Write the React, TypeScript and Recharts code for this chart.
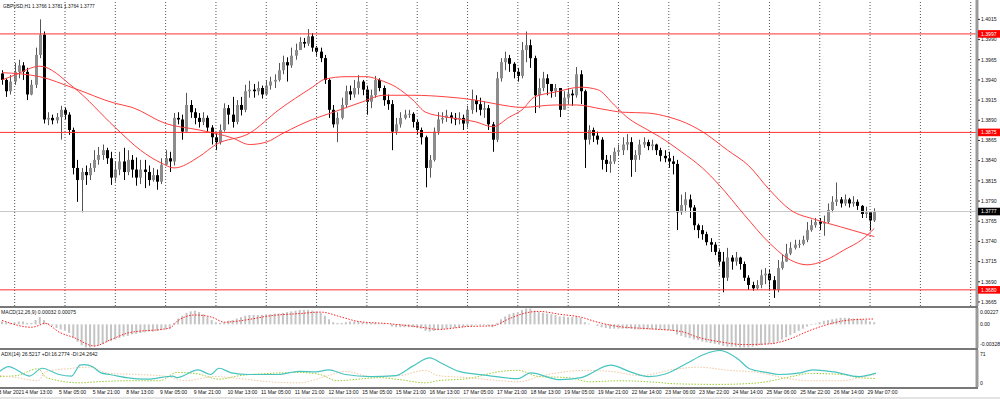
import { ComposedChart, Bar, Line, XAxis, YAxis, ReferenceLine } from 'recharts'

// GBPUSD H1, one row per two hours, prices in pips (1e-4)
const firstOpen = 13948
const closes = [
  13940, 13926, 13938, 13950, 13958, 13950, 13922, 13934, 13971, 13996,
  13891, 13893, 13890, 13894, 13903, 13897, 13878, 13831, 13816, 13826,
  13822, 13831, 13841, 13847, 13853, 13843, 13819, 13829, 13839, 13826,
  13841, 13829, 13819, 13829, 13826, 13816, 13822, 13814, 13835, 13843,
  13839, 13893, 13891, 13876, 13909, 13900, 13893, 13888, 13893, 13881,
  13869, 13863, 13878, 13905, 13897, 13888, 13909, 13903, 13926, 13928,
  13926, 13930, 13922, 13933, 13938, 13940, 13952, 13962, 13958, 13970,
  13977, 13987, 13985, 13994, 13980, 13975, 13967, 13940, 13903, 13885,
  13893, 13909, 13926, 13922, 13930, 13938, 13928, 13913, 13921, 13940,
  13930, 13915, 13910, 13876, 13885, 13893, 13897, 13898, 13888, 13878,
  13869, 13831, 13841, 13876, 13891, 13893, 13896, 13893, 13891, 13893,
  13886, 13903, 13915, 13910, 13903, 13905, 13885, 13866, 13942, 13962,
  13967, 13960, 13950, 13945, 13977, 13983, 13967, 13921, 13930, 13942,
  13935, 13926, 13930, 13903, 13918, 13923, 13921, 13947, 13926, 13866,
  13878, 13871, 13866, 13841, 13836, 13839, 13851, 13853, 13860, 13863,
  13841, 13847, 13860, 13863, 13858, 13860, 13853, 13846, 13843, 13839,
  13836, 13776, 13785, 13792, 13782, 13760, 13754, 13749, 13739, 13736,
  13727, 13715, 13695, 13720, 13715, 13720, 13712, 13695, 13686, 13682,
  13686, 13698, 13700, 13692, 13680, 13707, 13715, 13725, 13732, 13736,
  13737, 13742, 13754, 13760, 13764, 13762, 13764, 13779, 13789, 13792,
  13787, 13792, 13787, 13789, 13784, 13774, 13776, 13766, 13777,
]
const highs = [
  13952, 13942, 13946, 13961, 13965, 13962, 13955, 13940, 13980, 14015,
  14000, 13900, 13897, 13899, 13908, 13906, 13900, 13881, 13841, 13831,
  13834, 13837, 13853, 13857, 13860, 13856, 13851, 13839, 13851, 13856,
  13853, 13847, 13844, 13841, 13841, 13834, 13831, 13829, 13843, 13853,
  13851, 13899, 13900, 13897, 13924, 13915, 13905, 13899, 13900, 13896,
  13884, 13874, 13885, 13911, 13909, 13919, 13915, 13919, 13934, 13939,
  13935, 13938, 13933, 13940, 13944, 13947, 13961, 13970, 13968, 13980,
  13985, 13993, 13992, 14003, 13998, 13982, 13980, 13971, 13942, 13909,
  13900, 13918, 13933, 13933, 13940, 13946, 13940, 13933, 13928, 13945,
  13942, 13933, 13922, 13915, 13893, 13900, 13903, 13903, 13900, 13891,
  13881, 13871, 13847, 13881, 13900, 13900, 13903, 13900, 13899, 13900,
  13897, 13908, 13928, 13921, 13918, 13913, 13909, 13888, 13950, 13967,
  13975, 13971, 13962, 13955, 13987, 14000, 13990, 13970, 13942, 13950,
  13947, 13935, 13935, 13930, 13926, 13930, 13928, 13956, 13952, 13928,
  13884, 13881, 13876, 13869, 13847, 13847, 13856, 13860, 13869, 13873,
  13869, 13853, 13866, 13869, 13866, 13866, 13861, 13856, 13853, 13851,
  13846, 13841, 13798, 13801, 13798, 13785, 13762, 13760, 13752, 13744,
  13739, 13730, 13727, 13732, 13723, 13727, 13721, 13715, 13698, 13690,
  13692, 13705, 13707, 13705, 13697, 13717, 13724, 13737, 13739, 13742,
  13742, 13747, 13764, 13767, 13769, 13769, 13772, 13787, 13796, 13813,
  13795, 13798, 13794, 13796, 13792, 13785, 13783, 13776, 13781,
]
const lows = [
  13934, 13919, 13922, 13934, 13942, 13940, 13915, 13921, 13930, 13967,
  13886, 13884, 13885, 13886, 13866, 13891, 13872, 13823, 13789, 13776,
  13810, 13816, 13826, 13835, 13841, 13836, 13810, 13814, 13822, 13816,
  13822, 13819, 13809, 13811, 13806, 13809, 13814, 13804, 13811, 13835,
  13826, 13834, 13885, 13866, 13878, 13893, 13885, 13881, 13884, 13876,
  13860, 13853, 13860, 13876, 13885, 13881, 13885, 13896, 13900, 13918,
  13918, 13921, 13917, 13921, 13928, 13930, 13938, 13947, 13938, 13955,
  13965, 13977, 13980, 13982, 13975, 13970, 13962, 13935, 13893, 13881,
  13863, 13891, 13905, 13915, 13918, 13922, 13921, 13897, 13905, 13918,
  13926, 13908, 13903, 13853, 13872, 13881, 13891, 13893, 13881, 13872,
  13860, 13807, 13819, 13839, 13872, 13886, 13888, 13886, 13884, 13885,
  13878, 13881, 13898, 13900, 13896, 13893, 13878, 13851, 13863, 13938,
  13952, 13950, 13942, 13938, 13942, 13962, 13955, 13899, 13905, 13926,
  13921, 13918, 13919, 13894, 13905, 13910, 13908, 13918, 13910, 13831,
  13860, 13863, 13860, 13829, 13826, 13825, 13836, 13846, 13847, 13853,
  13820, 13826, 13841, 13856, 13853, 13853, 13847, 13839, 13838, 13831,
  13823, 13754, 13773, 13776, 13769, 13754, 13744, 13742, 13735, 13727,
  13723, 13710, 13677, 13691, 13705, 13710, 13705, 13691, 13680, 13679,
  13680, 13682, 13687, 13680, 13670, 13677, 13705, 13715, 13723, 13730,
  13732, 13735, 13739, 13752, 13757, 13754, 13747, 13762, 13776, 13784,
  13782, 13784, 13782, 13783, 13779, 13769, 13769, 13754, 13764,
]

// moving averages, [bar, price] read at points along the curves
const maFast: [number, number][] = [
  [0, 13940], [3, 13946], [9, 13957], [17, 13931], [27, 13881], [33, 13853], [38, 13837], [41, 13831],
  [47, 13845], [51, 13860], [59, 13874], [66, 13903], [74, 13931], [77, 13941], [82, 13944], [87, 13944],
  [90, 13940], [94, 13931], [98, 13915], [101, 13900], [106, 13894], [113, 13888], [117, 13882], [121, 13894],
  [124, 13903], [127, 13919], [132, 13925], [138, 13931], [142, 13928], [146, 13909], [149, 13894], [154, 13878],
  [157, 13869], [162, 13851], [167, 13831], [171, 13810], [177, 13773], [183, 13738], [188, 13717], [192, 13711],
  [196, 13716], [201, 13730], [205, 13742], [208, 13756],
]
const maSlow: [number, number][] = [
  [0, 13949], [9, 13944], [17, 13930], [27, 13911], [31, 13906], [39, 13886], [47, 13878], [55, 13868],
  [59, 13860], [63, 13863], [67, 13874], [74, 13891], [79, 13900], [86, 13913], [91, 13921], [98, 13921],
  [106, 13919], [113, 13915], [118, 13910], [124, 13906], [132, 13909], [137, 13909], [143, 13904], [148, 13900],
  [154, 13899], [159, 13894], [162, 13889], [167, 13876], [173, 13853], [178, 13834], [183, 13804], [188, 13779],
  [194, 13767], [200, 13758], [208, 13746],
]

// MACD(12,26,9) in 1e-4 units
const macdMain = [
  4, 3, 2, 3, 4, 4, 2, 2, 6, 10,
  6, 2, -2, -5, -7, -9, -12,
  -18, -24, -29, -32, -32, -31, -29, -27, -25, -23, -21, -19, -17,
  -16, -14, -13, -12, -11, -10, -10, -9, -8, -7, -6,
  2, 8, 12, 16, 18, 19, 17, 14, 10, 6, 3, 2, 3, 5, 6, 8, 10, 12,
  13, 13, 13, 13, 14, 14, 15, 15, 16, 17, 18, 19, 20, 20, 20, 19, 18, 16,
  12, 7, 3, 2, 2, 3, 4, 4, 4, 3, 2, 2, 2, 1, 1, 0,
  -3, -4, -4, -4, -4, -4, -5, -6, -9, -10, -9, -8, -7, -6, -5, -5, -4, -4, -3, -2, -1, -1, -1, -2, -4,
  2, 7, 11, 14, 16, 17, 20, 22, 22, 19, 17, 16, 15, 14, 13, 11, 11, 10, 10, 11, 9,
  3, 1, 0, -2, -4, -5, -6, -6, -6, -6, -6, -6, -7, -7, -7, -7, -7, -7, -7, -8, -8, -9,
  -14, -16, -18, -19, -21, -22, -24, -25, -26, -27, -28, -30, -31, -31, -31, -32, -32, -32, -31, -30, -29, -28, -27, -27,
  -24, -21, -18, -15, -12, -9, -6, -3, -1, 1, 3, 5, 6, 7, 8, 9, 9, 9, 8, 8, 7, 6, 4, 3,
]
const macdSignal: [number, number][] = [
  [0, 5.5], [7, -4], [9, -1], [10, 1.6], [14, -12], [17, -18], [22, -30], [26, -21], [30, -12], [40, -5],
  [42, 5.5], [46, 13], [50, 10], [53, 3], [58, 6], [64, 12], [71, 15], [76, 17], [81, 10], [85, 4],
  [92, 1], [100, -4], [104, -7], [111, -3], [117, -2], [121, 8], [125, 16], [128, 18], [133, 14], [138, 10],
  [142, 3], [147, -3], [154, -6], [162, -10], [166, -18], [171, -24], [177, -28], [183, -27], [188, -20],
  [192, -10], [197, 0], [202, 6], [208, 7.5],
]

// ADX(14)
const adx: [number, number][] = [
  [0, 30], [2, 39], [7, 21], [10, 36], [14, 24], [17, 21], [19, 42], [20, 43], [22, 39], [24, 27], [26, 24],
  [28, 21], [30, 18], [35, 15], [41, 21], [42, 18], [47, 33], [50, 24], [52, 36], [55, 27], [59, 24], [66, 24],
  [71, 30], [75, 29], [78, 33], [82, 24], [88, 20], [94, 22], [98, 40], [102, 56], [105, 45], [109, 30],
  [116, 22], [123, 16], [126, 27], [133, 14], [138, 18], [145, 42], [150, 28], [154, 20], [158, 25], [163, 45],
  [167, 62], [171, 70], [175, 55], [178, 35], [182, 28], [185, 24], [190, 27], [193, 33], [198, 29], [204, 20],
  [208, 26.5],
]
const plusDi: [number, number][] = [
  [0, 20], [4, 22], [9, 35], [11, 18], [19, 8], [23, 10], [30, 12], [38, 12], [42, 28], [47, 25], [52, 15],
  [57, 22], [64, 26], [71, 28], [76, 24], [80, 12], [85, 15], [90, 18], [95, 14], [101, 8], [104, 12], [111, 16],
  [119, 30], [123, 32], [128, 20], [135, 18], [140, 10], [147, 12], [154, 10], [161, 6], [171, 5], [180, 8],
  [188, 20], [192, 26], [200, 24], [204, 18], [208, 16.3],
]
const minusDi: [number, number][] = [
  [0, 22], [4, 18], [9, 12], [11, 30], [16, 35], [21, 38], [26, 26], [33, 24], [40, 20], [44, 12], [51, 20],
  [57, 16], [64, 10], [71, 8], [78, 22], [82, 30], [88, 20], [95, 22], [101, 32], [104, 22], [111, 18],
  [119, 12], [123, 10], [129, 22], [139, 32], [145, 30], [152, 22], [161, 35], [166, 38], [173, 32], [180, 28],
  [186, 18], [192, 12], [200, 12], [204, 18], [208, 24.3],
]

const dateLabels = [
  '4 Mar 13:00', '5 Mar 05:00', '5 Mar 21:00', '8 Mar 13:00', '9 Mar 05:00', '9 Mar 21:00', '10 Mar 13:00',
  '11 Mar 05:00', '11 Mar 21:00', '12 Mar 13:00', '15 Mar 05:00', '15 Mar 21:00', '16 Mar 13:00', '17 Mar 05:00',
  '17 Mar 21:00', '18 Mar 13:00', '19 Mar 05:00', '19 Mar 21:00', '22 Mar 14:00', '23 Mar 06:00', '23 Mar 22:00',
  '24 Mar 14:00', '25 Mar 06:00', '25 Mar 22:00', '26 Mar 14:00', '29 Mar 07:00',
]
const dateTickBars = dateLabels.map((_, k) => 6 + 8 * k)
const gridBars = Array.from({ length: 20 }, (_, m) => 3 + 12 * m)

const priceTicks = [13665, 13690, 13715, 13740, 13765, 13790, 13815, 13840, 13865, 13890, 13915, 13940, 13965, 13990, 14015]
const levels = [13997, 13875, 13680]
const bidPrice = 13777
const TOTAL = 233 // bars plus the empty shift on the right

const FONT = 'Liberation Sans, Arial, sans-serif'
const FS = 5.1

const rows: any[] = Array.from({ length: TOTAL }, (_, i) => {
  const row: any = { i }
  if (i < closes.length) {
    const o = i === 0 ? firstOpen : closes[i - 1]
    const c = closes[i]
    row.o = o
    row.c = c
    row.range = [Math.min(lows[i], o, c), Math.max(highs[i], o, c)]
    row.macd = macdMain[i]
  }
  return row
})
const put = (pts: [number, number][], key: string) => pts.forEach(([i, v]) => { rows[i][key] = v })
put(maFast, 'maFast')
put(maSlow, 'maSlow')
put(macdSignal, 'sig')
put(adx, 'adx')
put(plusDi, 'pdi')
put(minusDi, 'mdi')

const labelMap = new Map(dateTickBars.map((b, k) => [b, dateLabels[k]]))
const noDot = (p: any) => <g key={'nd' + p.index} />

function Candle(props: any) {
  const { x, y, width, height, payload } = props
  if (!payload || payload.o == null) return null
  const [lo, hi] = payload.range
  const top = Math.min(y, y + height)
  const h = Math.abs(height)
  const cx = Math.round(x + width / 2) + 0.5
  const py = (v: number) => top + ((hi - v) / (hi - lo || 1)) * h
  const bTop = py(Math.max(payload.o, payload.c))
  const bBot = py(Math.min(payload.o, payload.c))
  const up = payload.c >= payload.o
  return (
    <g>
      <line x1={cx} x2={cx} y1={top} y2={top + h} stroke={up ? '#555' : '#000'} strokeWidth={1} />
      <rect x={cx - 1.5} y={bTop} width={3} height={Math.max(bBot - bTop, 1)} fill={up ? '#8c8c8c' : '#000'} />
    </g>
  )
}

function PriceTick({ x, y, payload }: any) {
  const v = payload.value
  const label = (v / 10000).toFixed(4)
  const box = levels.includes(v) ? '#ff0000' : v === bidPrice ? '#000' : null
  if (box) {
    return (
      <g>
        <rect x={x - 3} y={y - 3.8} width={22} height={7.6} fill={box} />
        <text x={x} y={y} dy={1.8} fontSize={FS} fontFamily={FONT} fill="#fff">{label}</text>
      </g>
    )
  }
  return (
    <g>
      <line x1={x - 3} x2={x - 1} y1={y} y2={y} stroke="#000" strokeWidth={0.8} />
      <text x={x} y={y} dy={1.8} fontSize={FS} fontFamily={FONT} fill="#111">{label}</text>
    </g>
  )
}

function SubTick({ x, y, payload, top, bottom, fmt }: any) {
  const v = payload.value
  const shift = v === top ? 4 : v === bottom ? -4 : 0
  return (
    <text x={x} y={y + shift} dy={1.8} fontSize={FS} fontFamily={FONT} fill="#111">{fmt(v)}</text>
  )
}

function DateTick({ x, y, payload }: any) {
  const v = payload.value
  if (v === 0) {
    return <text x={x - 1.5} y={y + 4.5} fontSize={FS} fontFamily={FONT} fill="#111" textAnchor="start">3 Mar 2021</text>
  }
  return <text x={x} y={y + 4.5} fontSize={FS} fontFamily={FONT} fill="#111" textAnchor="start">{labelMap.get(v)}</text>
}

const macdFmt = (v: number) => (v === 0 ? '0.00' : (v / 10000).toFixed(5))
const sep = (top: number) => (
  <div style={{ position: 'absolute', left: 0, top, width: 978, height: 2, background: '#787878' }} />
)

export default function App() {
  return (
    <div style={{ position: 'relative', width: 1000, height: 399, background: '#fff', overflow: 'hidden' }}>
      <style>{'body{margin:0}'}</style>

      <div style={{ position: 'absolute', left: 0, top: 0 }}>
        <ComposedChart width={1000} height={306} data={rows} margin={{ top: 0, right: 0, bottom: 0, left: 0 }} barCategoryGap={0}>
          <XAxis dataKey="i" hide />
          <YAxis
            orientation="right"
            width={23}
            domain={[13660, 14039]}
            allowDataOverflow
            ticks={[...priceTicks, ...levels, bidPrice]}
            interval={0}
            tickSize={4}
            tickMargin={0}
            tickLine={false}
            axisLine={{ stroke: '#9a9a9a', strokeWidth: 3 }}
            tick={<PriceTick />}
          />
          {gridBars.map(b => (
            <ReferenceLine key={b} x={b} stroke="#555" strokeDasharray="1 2" />
          ))}
          <ReferenceLine y={bidPrice} stroke="#c8c8c8" />
          <Bar dataKey="range" shape={<Candle />} isAnimationActive={false} />
          <Line type="monotone" dataKey="maSlow" stroke="#ff4040" strokeWidth={1} dot={noDot} activeDot={false} connectNulls isAnimationActive={false} />
          <Line type="monotone" dataKey="maFast" stroke="#ff4040" strokeWidth={1} dot={noDot} activeDot={false} connectNulls isAnimationActive={false} />
          {levels.map(l => (
            <ReferenceLine key={l} y={l} stroke="#ff3030" strokeWidth={1} />
          ))}
        </ComposedChart>
      </div>

      <div style={{ position: 'absolute', left: 0, top: 308 }}>
        <ComposedChart width={1000} height={40} data={rows} margin={{ top: 0, right: 0, bottom: 0, left: 0 }}>
          <XAxis dataKey="i" hide />
          <YAxis
            orientation="right"
            width={23}
            domain={[-32.8, 22.7]}
            allowDataOverflow
            ticks={[22.7, 0, -32.8]}
            interval={0}
            tickSize={3}
            tickMargin={0}
            tickLine={false}
            axisLine={{ stroke: '#9a9a9a', strokeWidth: 3 }}
            tick={<SubTick top={22.7} bottom={-32.8} fmt={macdFmt} />}
          />
          <Bar dataKey="macd" fill="#c4c4c4" barSize={2} isAnimationActive={false} />
          <Line type="monotone" dataKey="sig" stroke="#ff2020" strokeWidth={1} strokeDasharray="1.5 1.5" dot={noDot} activeDot={false} connectNulls isAnimationActive={false} />
        </ComposedChart>
      </div>

      <div style={{ position: 'absolute', left: 0, top: 350 }}>
        <ComposedChart width={1000} height={49} data={rows} margin={{ top: 0, right: 0, bottom: 0, left: 0 }}>
          <XAxis
            dataKey="i"
            height={12}
            ticks={[0, ...dateTickBars]}
            interval={0}
            tickSize={0}
            tickMargin={2}
            axisLine={false}
            tickLine={false}
            tick={<DateTick />}
          />
          <YAxis
            orientation="right"
            width={23}
            domain={[0, 71]}
            allowDataOverflow
            ticks={[71, 0]}
            interval={0}
            tickSize={3}
            tickMargin={0}
            tickLine={false}
            axisLine={{ stroke: '#9a9a9a', strokeWidth: 3 }}
            tick={<SubTick top={71} bottom={0} fmt={(v: number) => String(v)} />}
          />
          <Line type="monotone" dataKey="pdi" stroke="#9acd32" strokeWidth={1} strokeDasharray="1.5 1.5" dot={noDot} activeDot={false} connectNulls isAnimationActive={false} />
          <Line type="monotone" dataKey="mdi" stroke="#f0c8a0" strokeWidth={1} strokeDasharray="1.5 1.5" dot={noDot} activeDot={false} connectNulls isAnimationActive={false} />
          <Line type="monotone" dataKey="adx" stroke="#48c4c0" strokeWidth={1.2} dot={noDot} activeDot={false} connectNulls isAnimationActive={false} />
        </ComposedChart>
      </div>

      {sep(306)}
      {sep(348)}
      {sep(387)}
      <div style={{ position: 'absolute', left: 0, top: 397, width: 1000, height: 2, background: '#e4e4e4' }} />

      <svg width={1000} height={399} style={{ position: 'absolute', left: 0, top: 0, pointerEvents: 'none' }}>
        <text x={3} y={7.5} fontSize={4.8} fontFamily={FONT} fill="#111">GBPUSD,H1  1.3766 1.3781 1.3764 1.3777</text>
        <text x={1} y={313.5} fontSize={FS} fontFamily={FONT} fill="#111">MACD(12,26,9) 0.00032 0.00075</text>
        <text x={1} y={355.5} fontSize={FS} fontFamily={FONT} fill="#111">ADX(14) 26.5217 +DI:16.2774 -DI:24.2642</text>
      </svg>
    </div>
  )
}
